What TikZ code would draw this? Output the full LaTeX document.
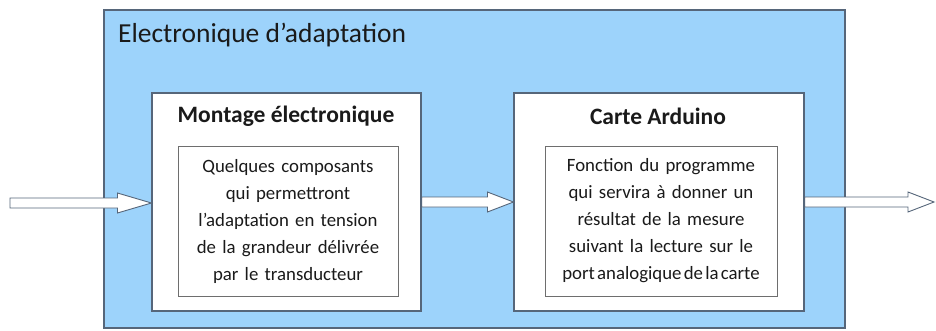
\documentclass[tikz,border=0pt]{standalone}
\usepackage{fontspec}
\setmainfont{Carlito}
\usetikzlibrary{calc}
\definecolor{bluefill}{HTML}{9DD3FB}
\definecolor{edge}{HTML}{56667A}
\definecolor{inedge}{HTML}{6E6E6E}
\definecolor{txt}{HTML}{1A1A1A}
\tikzset{
  outerbox/.style={draw=edge, line width=1.2pt, fill=bluefill, minimum width=741pt, minimum height=318pt, inner sep=0pt},
  blockbox/.style={draw=edge, line width=1.1pt, fill=white, inner sep=0pt, minimum height=218pt},
  textbox/.style={draw=inedge, line width=1pt, fill=white, inner sep=0pt, minimum height=150pt, align=center, font=\fontsize{18.8}{27}\selectfont, text=txt},
  heading/.style={font=\fontsize{23.5}{26}\selectfont\bfseries, text=txt, inner sep=0pt},
  titlestyle/.style={font=\fontsize{27.5}{30}\selectfont, text=txt, inner sep=0pt, anchor=west},
  barrow/.style={draw=edge, line width=0.9pt, fill=white, line join=miter}
}
\begin{document}
\begin{tikzpicture}[x=1pt,y=-1pt]
\useasboundingbox (0,0) rectangle (936,330);
\node[outerbox] (outer) at (474.5,169) {};
\node[titlestyle] (title) at (118,35) {Electronique d’adaptation};
\node[blockbox, minimum width=269pt] (box1) at (286.5,202) {};
\node[blockbox, minimum width=290pt] (box2) at (659,202) {};
\node[heading] (h1) at (286,116) {Montage électronique};
\node[heading] (h2) at (658,116) {Carte Arduino};
\node[textbox, minimum width=220pt, text width=220pt] (t1) at (288,221) {Quelques composants\\qui permettront\\l’adaptation en tension\\de la grandeur délivrée\\par le transducteur};
\node[textbox, minimum width=232pt, text width=232pt] (t2) at (661,221) {Fonction du programme\\qui servira à donner un\\résultat de la mesure\\suivant la lecture sur le\\{\spaceskip=0.12em\relax port analogique de la carte}};
\coordinate (in) at (10,203);
\coordinate (out) at (934,203);
% input arrow
\draw[barrow] let \p1=(in), \p2=(box1.west) in
  (\x1,\y1+5) -- (\x2-34,\y1+5) -- (\x2-34,\y1+10) -- (\x2,\y1) -- (\x2-34,\y1-10) -- (\x2-34,\y1-5) -- (\x1,\y1-5) -- cycle;
% middle arrow
\draw[barrow] let \p1=(box1.east), \p2=(box2.west) in
  (\x1,\y1+5) -- (\x2-26,\y1+5) -- (\x2-26,\y1+10) -- (\x2,\y1) -- (\x2-26,\y1-10) -- (\x2-26,\y1-5) -- (\x1,\y1-5) -- cycle;
% output arrow
\draw[barrow] let \p1=(box2.east), \p2=(out) in
  (\x1,\y1+5) -- (\x2-26,\y1+5) -- (\x2-26,\y1+10) -- (\x2,\y1) -- (\x2-26,\y1-10) -- (\x2-26,\y1-5) -- (\x1,\y1-5) -- cycle;
\end{tikzpicture}
\end{document}
